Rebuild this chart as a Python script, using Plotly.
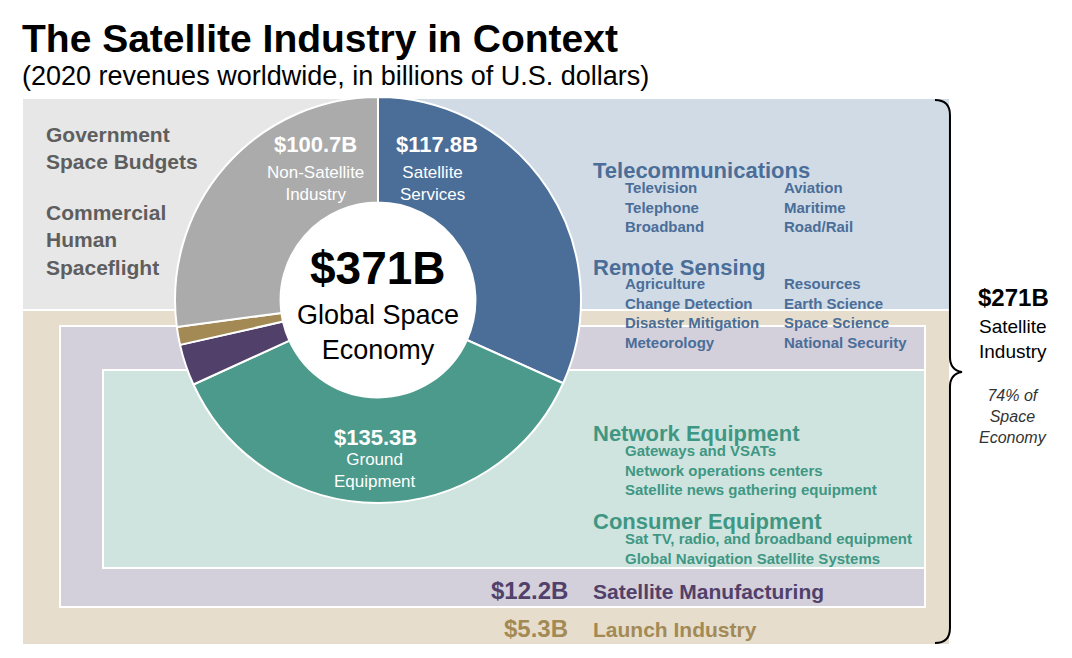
import plotly.graph_objects as go

W, H = 1072, 658
OFF = 8  # page body margin

# donut data (clockwise from top)
seg_labels = ['Satellite Services', 'Ground Equipment', 'Satellite Manufacturing', 'Launch Industry', 'Non-Satellite Industry']
seg_values = [117.8, 135.3, 12.2, 5.3, 100.7]
seg_colors = ['#4a6e98', '#4b9a8b', '#51416a', '#a38a55', '#ababab']

telecom_items = [['Television', 'Telephone', 'Broadband'], ['Aviation', 'Maritime', 'Road/Rail']]
remote_items = [['Agriculture', 'Change Detection', 'Disaster Mitigation', 'Meteorology'],
                ['Resources', 'Earth Science', 'Space Science', 'National Security']]
network_items = ['Gateways and VSATs', 'Network operations centers', 'Satellite news gathering equipment']
consumer_items = ['Sat TV, radio, and broadband equipment', 'Global Navigation Satellite Systems']

FONT = 'Arial'
BLUE, TEAL, PURP, TAN, GREY = '#4a6e98', '#3f9783', '#51416a', '#a38a55', '#5e5e5e'


def px(x):
    return (x - OFF) / W


def py(y):
    return 1 - (y - OFF) / H


fig = go.Figure()

# background boxes
boxes = [
    (22, 98, 378, 310, '#e7e7e7'),
    (378, 98, 950, 412, '#d1dbe6'),
    (22, 310, 950, 645, '#e6ddcd'),
    (60, 326, 925, 607, '#d3cfdb'),
    (103, 370, 925, 568, '#cfe4df'),
]
shapes = []
for x0, y0, x1, y1, c in boxes:
    shapes.append(dict(type='rect', xref='paper', yref='paper', x0=px(x0), x1=px(x1),
                       y0=py(y1), y1=py(y0), fillcolor=c, line=dict(width=2, color='white'), layer='below'))

# right bracket
pts = 'M 935,100 Q 950,100 950,115 L 950,357 Q 950,370 962,372 Q 950,374 950,387 L 950,628 Q 950,643 935,643'
out = []
for s in pts.split():
    if ',' in s:
        x, y = s.split(',')
        out.append('%.4f,%.4f' % (px(float(x)), py(float(y))))
    else:
        out.append(s)
shapes.append(dict(type='path', xref='paper', yref='paper', path=' '.join(out),
                   line=dict(color='black', width=2)))

cx, cy, r, rin = 378, 300, 203, 97
fig.add_trace(go.Pie(labels=seg_labels, values=seg_values, hole=0.48, sort=False,
                     direction='clockwise', rotation=0,
                     marker=dict(colors=seg_colors, line=dict(color='white', width=2)),
                     textinfo='none', hoverinfo='label+value',
                     domain=dict(x=[px(cx - r), px(cx + r)], y=[py(cy + r), py(cy - r)])))
# white centre of the donut
shapes.append(dict(type='circle', xref='paper', yref='paper', x0=px(cx - rin), x1=px(cx + rin),
                   y0=py(cy + rin), y1=py(cy - rin), fillcolor='white', line=dict(width=0), layer='above'))

ann = []


def txt(x, y, t, size, color='black', bold=False, anchor='left', italic=False):
    if bold:
        t = '<b>' + t + '</b>'
    if italic:
        t = '<i>' + t + '</i>'
    ann.append(dict(x=px(x), y=py(y), xref='paper', yref='paper', text=t, showarrow=False,
                    xanchor=anchor, yanchor='middle', align=anchor,
                    font=dict(family=FONT, size=size, color=color)))


txt(20, 38, 'The Satellite Industry in Context', 39, bold=True)
txt(20, 76, '(2020 revenues worldwide, in billions of U.S. dollars)', 27)

txt(44, 148, 'Government<br>Space Budgets', 21, GREY, bold=True)
txt(44, 240, 'Commercial<br>Human<br>Spaceflight', 21, GREY, bold=True)

txt(315, 145, '$100.7B', 22, 'white', bold=True, anchor='center')
txt(315, 183, 'Non-Satellite<br>Industry', 17, 'white', anchor='center')
txt(437, 145, '$117.8B', 22, 'white', bold=True, anchor='center')
txt(432, 183, 'Satellite<br>Services', 17, 'white', anchor='center')
txt(375, 437, '$135.3B', 22, 'white', bold=True, anchor='center')
txt(375, 470, 'Ground<br>Equipment', 17, 'white', anchor='center')

txt(378, 268, '$371B', 46, bold=True, anchor='center')
txt(378, 332, 'Global Space<br>Economy', 27, anchor='center')

txt(591, 170, 'Telecommunications', 22, BLUE, bold=True)
for col, xx in zip(telecom_items, [623, 782]):
    txt(xx, 207, '<br>'.join(col), 15, BLUE, bold=True)
txt(591, 267, 'Remote Sensing', 22, BLUE, bold=True)
for col, xx in zip(remote_items, [623, 782]):
    txt(xx, 313, '<br>'.join(col), 15, BLUE, bold=True)

txt(591, 433, 'Network Equipment', 22, TEAL, bold=True)
txt(623, 470, '<br>'.join(network_items), 15, TEAL, bold=True)
txt(591, 521, 'Consumer Equipment', 22, TEAL, bold=True)
txt(623, 548, '<br>'.join(consumer_items), 15, TEAL, bold=True)

txt(570, 590, '$12.2B', 24, PURP, bold=True, anchor='right')
txt(591, 591, 'Satellite Manufacturing', 21, PURP, bold=True)
txt(570, 628, '$5.3B', 24, TAN, bold=True, anchor='right')
txt(591, 629, 'Launch Industry', 21, TAN, bold=True)

txt(1013, 297, '$271B', 24, bold=True, anchor='center')
txt(1013, 339, 'Satellite<br>Industry', 19, anchor='center')
txt(1013, 416, '74% of<br>Space<br>Economy', 16, '#333333', anchor='center', italic=True)

fig.update_layout(width=W, height=H, margin=dict(l=0, r=0, t=0, b=0),
                  paper_bgcolor='white', plot_bgcolor='white', showlegend=False,
                  shapes=shapes, annotations=ann)
fig.write_html('out.html')
